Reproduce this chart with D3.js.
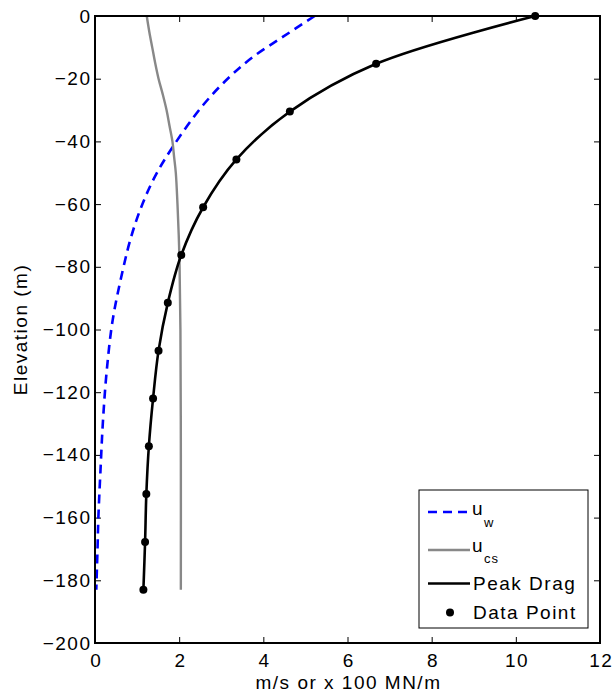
<!DOCTYPE html>
<html>
<head>
<meta charset="utf-8">
<script src="https://cdn.jsdelivr.net/npm/d3@7"></script>
<style>
  html, body { margin: 0; padding: 0; background: #fff; }
  svg { display: block; font-family: "Liberation Sans", Arial, Helvetica, sans-serif; }
</style>
</head>
<body>
<svg id="chart" width="614" height="695"></svg>
<script>
// ---- Data ----
// Peak drag data points (x in m/s or x100 MN/m, elevation in m)
const dragElevation = [0, -15.25, -30.5, -45.75, -61, -76.25, -91.5, -106.75, -122, -137.25, -152.5, -167.75, -183];
const dragValue     = [10.46, 6.68, 4.63, 3.36, 2.57, 2.05, 1.73, 1.51, 1.38, 1.28, 1.22, 1.19, 1.15];

// u_w (blue dashed)
const uwElevation = [0, -6.6, -13, -19.4, -28.4, -41.7, -51.3, -60.9, -70.4, -81.1, -97, -113, -129, -145, -160, -170, -183];
const uwValue     = [5.22, 4.47, 3.76, 3.20, 2.57, 1.85, 1.42, 1.10, 0.86, 0.66, 0.42, 0.28, 0.19, 0.13, 0.08, 0.06, 0.03];

// u_cs (grey)
const ucsElevation = [0, -5, -10, -15, -20, -25, -30, -35, -40, -45, -50, -60, -70, -80, -100, -140, -183];
const ucsValue     = [1.23, 1.29, 1.36, 1.43, 1.51, 1.61, 1.70, 1.77, 1.84, 1.88, 1.92, 1.96, 1.99, 2.01, 2.03, 2.04, 2.04];

const xTicks = [0, 2, 4, 6, 8, 10, 12];
const yTicks = [0, -20, -40, -60, -80, -100, -120, -140, -160, -180, -200];

const xLabel = "m/s or x 100 MN/m";
const yLabel = "Elevation (m)";

// ---- Chart ----
const svg = d3.select("#chart");
const mLeft = 95, mRight = 600, mTop = 16, mBottom = 643;

const x = d3.scaleLinear().domain([0, 12]).range([mLeft, mRight]);
const y = d3.scaleLinear().domain([-200, 0]).range([mBottom, mTop]);

svg.append("rect").attr("width", 614).attr("height", 695).attr("fill", "#fff");

const fontSize = 19;
const ls = "1.5px";
const tickLen = 6;

// axes (inward ticks, like MATLAB box on)
const gB = svg.append("g").attr("transform", `translate(0,${mBottom})`)
  .call(d3.axisBottom(x).tickValues(xTicks).tickSizeInner(-tickLen).tickSizeOuter(0).tickPadding(11));
const gL = svg.append("g").attr("transform", `translate(${mLeft},0)`)
  .call(d3.axisLeft(y).tickValues(yTicks).tickSizeInner(-tickLen).tickSizeOuter(0).tickPadding(3.5));
const gT = svg.append("g").attr("transform", `translate(0,${mTop})`)
  .call(d3.axisTop(x).tickValues(xTicks).tickSizeInner(-tickLen).tickSizeOuter(0).tickFormat(""));
const gR = svg.append("g").attr("transform", `translate(${mRight},0)`)
  .call(d3.axisRight(y).tickValues(yTicks).tickSizeInner(-tickLen).tickSizeOuter(0).tickFormat(""));

[gB, gL, gT, gR].forEach(g => {
  g.select(".domain").remove();
  g.selectAll(".tick line").attr("stroke", "#000").attr("stroke-width", 1);
  g.selectAll(".tick text").attr("fill", "#000").style("font-size", fontSize + "px")
    .style("letter-spacing", ls)
    .style("font-family", '"Liberation Sans", Arial, sans-serif');
});
// compensate trailing letter-spacing for centred bottom labels
gB.selectAll(".tick text").attr("dx", "0.75px");

// data lines
const lineV = d3.line().x(d => x(d[0])).y(d => y(d[1])).curve(d3.curveCatmullRom.alpha(0.5));

const uwData = uwValue.map((v, i) => [v, uwElevation[i]]);
const ucsData = ucsValue.map((v, i) => [v, ucsElevation[i]]);
const dragData = dragValue.map((v, i) => [v, dragElevation[i]]);

svg.append("path").datum(uwData).attr("d", lineV)
  .attr("fill", "none").attr("stroke", "#0000ff").attr("stroke-width", 2.6)
  .attr("stroke-dasharray", "9,6");

svg.append("path").datum(ucsData).attr("d", lineV)
  .attr("fill", "none").attr("stroke", "#888888").attr("stroke-width", 2.4);

svg.append("path").datum(dragData).attr("d", lineV)
  .attr("fill", "none").attr("stroke", "#000").attr("stroke-width", 2.6);

svg.append("g").selectAll("circle").data(dragData).join("circle")
  .attr("cx", d => x(d[0])).attr("cy", d => y(d[1])).attr("r", 4).attr("fill", "#000");

// frame
svg.append("rect").attr("x", mLeft).attr("y", mTop)
  .attr("width", mRight - mLeft).attr("height", mBottom - mTop)
  .attr("fill", "none").attr("stroke", "#000").attr("stroke-width", 2);

// axis labels
svg.append("text").attr("x", (mLeft + mRight) / 2 + 1).attr("y", 689)
  .attr("text-anchor", "middle").style("font-size", fontSize + "px").style("letter-spacing", ls).text(xLabel);
svg.append("text").attr("transform", `translate(27,${(mTop + mBottom) / 2}) rotate(-90)`)
  .attr("text-anchor", "middle").style("font-size", fontSize + "px").style("letter-spacing", ls).text(yLabel);

// legend
const lg = svg.append("g").style("letter-spacing", ls);
lg.append("rect").attr("x", 419).attr("y", 490).attr("width", 169).attr("height", 138)
  .attr("fill", "#fff").attr("stroke", "#000").attr("stroke-width", 1);

const lx0 = 428, lx1 = 470, tx = 472;
lg.append("line").attr("x1", lx0).attr("x2", lx1).attr("y1", 512).attr("y2", 512)
  .attr("stroke", "#0000ff").attr("stroke-width", 2.6).attr("stroke-dasharray", "9,6");
const t1 = lg.append("text").attr("x", tx).attr("y", 515).style("font-size", fontSize + "px");
t1.append("tspan").text("u");
t1.append("tspan").attr("dy", 12).style("font-size", "13px").style("letter-spacing", "1px").text("w");

lg.append("line").attr("x1", lx0).attr("x2", lx1).attr("y1", 550).attr("y2", 550)
  .attr("stroke", "#888888").attr("stroke-width", 2.4);
const t2 = lg.append("text").attr("x", tx).attr("y", 552).style("font-size", fontSize + "px");
t2.append("tspan").text("u");
t2.append("tspan").attr("dy", 11).style("font-size", "13px").style("letter-spacing", "1px").text("cs");

lg.append("line").attr("x1", lx0).attr("x2", lx1).attr("y1", 583.5).attr("y2", 583.5)
  .attr("stroke", "#000").attr("stroke-width", 2.6);
lg.append("text").attr("x", tx + 1).attr("y", 590).style("font-size", fontSize + "px").text("Peak Drag");

lg.append("circle").attr("cx", 450).attr("cy", 612.5).attr("r", 4).attr("fill", "#000");
lg.append("text").attr("x", tx + 1).attr("y", 619).style("font-size", fontSize + "px").text("Data Point");
</script>
</body>
</html>
